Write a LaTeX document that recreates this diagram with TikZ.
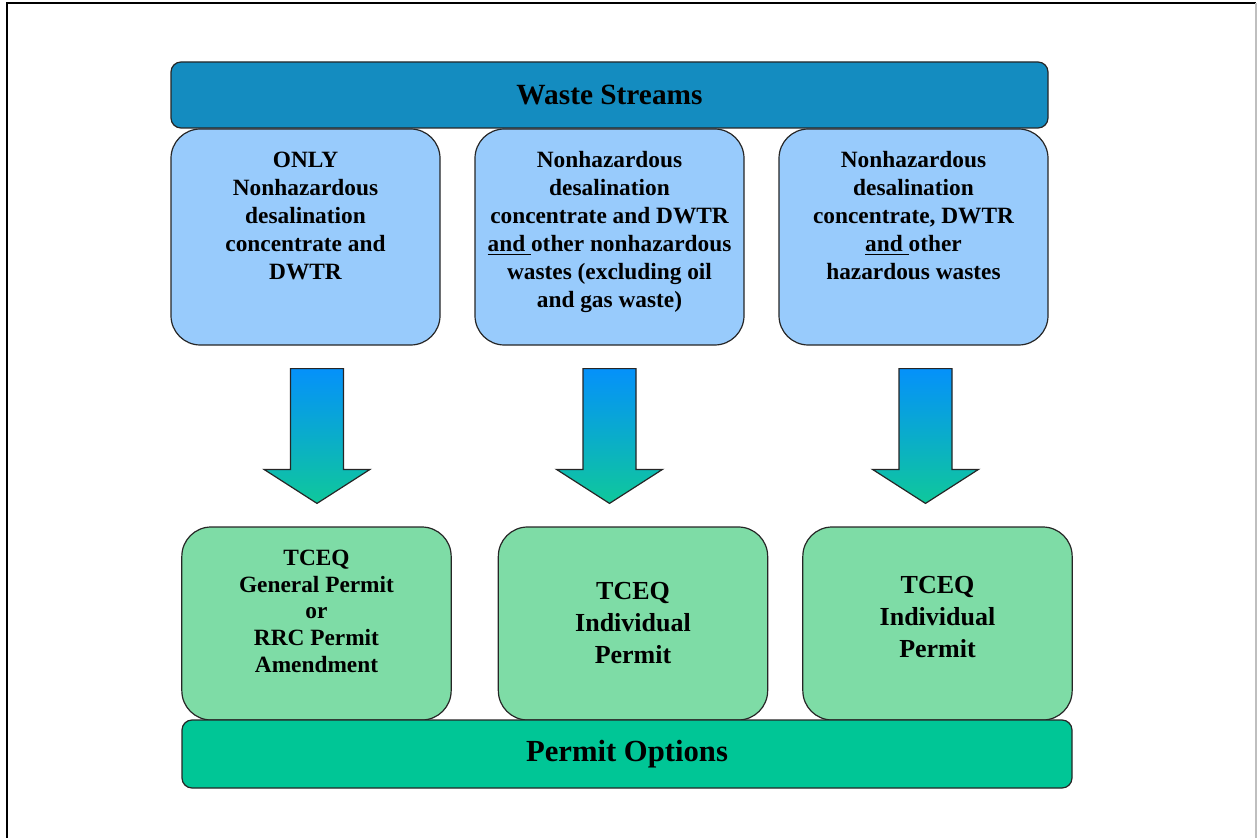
\documentclass[tikz,border=0pt]{standalone}
\usepackage{fontspec}
\setmainfont{Liberation Serif}
\usetikzlibrary{calc}

\definecolor{wastebar}{RGB}{20,140,192}
\definecolor{wasteblue}{RGB}{152,203,252}
\definecolor{permitgreen}{RGB}{126,220,166}
\definecolor{permitbar}{RGB}{0,198,150}
\definecolor{arrowtop}{RGB}{5,145,250}
\definecolor{arrowbot}{RGB}{15,200,155}

\newcommand{\toptext}[2]{\parbox[c][#1][t]{195pt}{\centering #2}}

\tikzset{
	bar/.style={draw=black!85, line width=0.9pt, rounded corners=7.5pt, inner sep=0pt,
		font=\bfseries\fontsize{22}{26}\selectfont},
	wastebox/.style={draw=black!85, line width=0.9pt, fill=wasteblue, rounded corners=22pt,
		minimum width=201.75pt, minimum height=162pt, inner xsep=0pt, inner ysep=17pt,
		font=\bfseries\fontsize{17.5}{21}\selectfont},
	permitbox/.style={draw=black!85, line width=0.9pt, fill=permitgreen, rounded corners=22pt,
		minimum width=202pt, minimum height=144.75pt, inner xsep=0pt, inner ysep=17pt,
		align=center, font=\bfseries\fontsize{19.5}{24}\selectfont},
	flowarrow/.style={draw=black!85, line width=0.9pt, top color=arrowtop, bottom color=arrowbot},
}

\begin{document}
\begin{tikzpicture}[x=0.75pt, y=-0.75pt]
	\useasboundingbox (0,0) rectangle (1257,838);
	
	% frame
	\draw[line width=1.6pt] (7,838) -- (7,3) -- (1256,3);
	\draw[black!25, line width=1pt] (1256,3) -- (1256,838);
	
	% waste streams
	\node[bar, fill=wastebar, minimum width=657.75pt, minimum height=49.5pt] (waste) at (609.5,95) {Waste Streams};
	\node[wastebox] (w1) at (305.5,237) {\toptext{128pt}{ONLY\\Nonhazardous\\desalination\\concentrate and\\DWTR}};
	\node[wastebox] (w2) at (609.5,237) {\toptext{128pt}{Nonhazardous\\desalination\\concentrate and DWTR\\\underline{and }other nonhazardous\\wastes (excluding oil\\and gas waste)}};
	\node[wastebox] (w3) at (913.5,237) {\toptext{128pt}{Nonhazardous\\desalination\\concentrate, DWTR\\\underline{and }other\\hazardous wastes}};
	
	% permit options
	\node[permitbox, font=\bfseries\fontsize{17.5}{20}\selectfont] (p1) at (316.5,623.5) {\toptext{110pt}{TCEQ\\General Permit\\or\\RRC Permit\\Amendment}};
	\node[permitbox] (p2) at (633,623.5) {TCEQ\\Individual\\Permit};
	\node[permitbox, text depth=10pt] (p3) at (937.5,623.5) {TCEQ\\Individual\\Permit};
	\node[bar, fill=permitbar, minimum width=667.5pt, minimum height=51pt, font=\bfseries\fontsize{23}{27}\selectfont] (options) at (627,754) {Permit Options};
	
	% block arrows
	\foreach \w/\p/\x in {w1/p1/317, w2/p2/609.5, w3/p3/925.5}{
		\coordinate (ax) at (\x,0);
		\coordinate (top) at ($(\w.south -| ax)+(0,23)$);
		\coordinate (tip) at ($(\p.north -| ax)+(0,-23)$);
		\draw[flowarrow] ($(top)+(-26.5,0)$) -- ($(top)+(26.5,0)$) -- ($(tip)+(26.5,-34)$)
			-- ($(tip)+(53,-34)$) -- (tip) -- ($(tip)+(-53,-34)$) -- ($(tip)+(-26.5,-34)$) -- cycle;
	}
\end{tikzpicture}
\end{document}
